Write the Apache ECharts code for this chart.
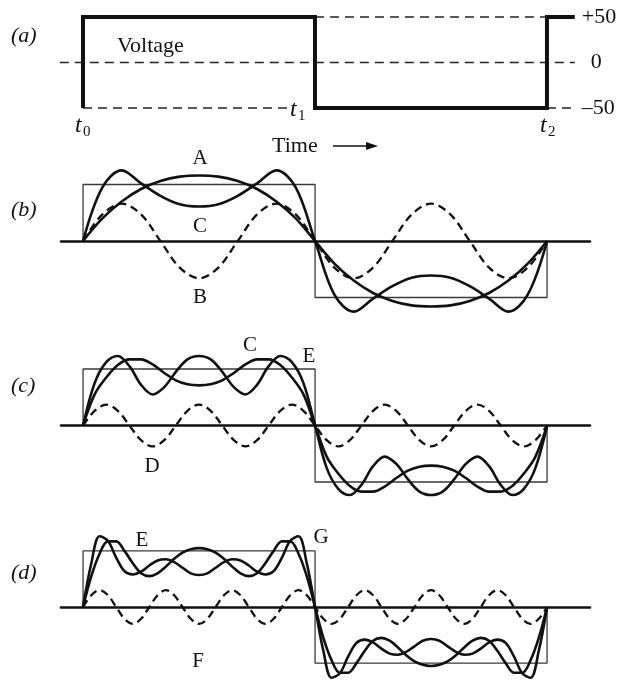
<!DOCTYPE html>
<html>
<head>
<meta charset="utf-8">
<script src="https://cdn.jsdelivr.net/npm/echarts@6/dist/echarts.min.js"></script>
<style>
  html, body { margin: 0; background: #fff; }
  #chart { width: 637px; height: 680px; }
</style>
</head>
<body>
<div id="chart"></div>
<script>
// (a) the square wave, time in half periods (t0 = 0, t1 = 1, t2 = 2)
const squareT = [0, 0, 1, 1, 2, 2, 2.12]
const squareV = [-50, 50, 50, -50, -50, 50, 50]
const tickValues = [50, 0, -50]
const tickLabels = ['+50', '{z|0}', '–50']

// thin outline of the ideal wave in (b)-(d), in units of the amplitude
const rectT = [0, 0, 1, 1, 2, 2]
const rectV = [0, 1, 1, -1, -1, 0]

// (b) sampled every 1/12 of a half period
const stepsB = 12
const waveA = [0, 0.40, 0.70, 0.92, 1.06, 1.14, 1.16, 1.14, 1.06, 0.92, 0.70, 0.40, 0,
  -0.40, -0.70, -0.92, -1.06, -1.14, -1.16, -1.14, -1.06, -0.92, -0.70, -0.40, 0]
const waveB = [0, 0.47, 0.66, 0.47, 0, -0.47, -0.66, -0.47, 0, 0.47, 0.66, 0.47, 0,
  -0.47, -0.66, -0.47, 0, 0.47, 0.66, 0.47, 0, -0.47, -0.66, -0.47, 0]
const waveCb = [0, 0.95, 1.25, 1.02, 0.80, 0.65, 0.61, 0.65, 0.80, 1.02, 1.25, 0.95, 0,
  -0.95, -1.25, -1.02, -0.80, -0.65, -0.61, -0.65, -0.80, -1.02, -1.25, -0.95, 0]

// (c) sampled every 1/20
const stepsC = 20
const waveCc = [0, 0.55, 0.85, 1.07, 1.17, 1.17, 1.08, 0.93, 0.80, 0.73, 0.71, 0.73, 0.80, 0.93, 1.08, 1.17, 1.17, 1.07, 0.85, 0.55, 0,
  -0.55, -0.85, -1.07, -1.17, -1.17, -1.08, -0.93, -0.80, -0.73, -0.71, -0.73, -0.80, -0.93, -1.08, -1.17, -1.17, -1.07, -0.85, -0.55, 0]
const waveD = [0, 0.26, 0.37, 0.26, 0, -0.26, -0.37, -0.26, 0, 0.26, 0.37, 0.26, 0, -0.26, -0.37, -0.26, 0, 0.26, 0.37, 0.26, 0,
  -0.26, -0.37, -0.26, 0, 0.26, 0.37, 0.26, 0, -0.26, -0.37, -0.26, 0, 0.26, 0.37, 0.26, 0, -0.26, -0.37, -0.26, 0]
const waveEc = [0, 0.75, 1.12, 1.23, 1.05, 0.72, 0.55, 0.68, 0.95, 1.17, 1.23, 1.17, 0.95, 0.68, 0.55, 0.72, 1.05, 1.23, 1.12, 0.75, 0,
  -0.75, -1.12, -1.23, -1.05, -0.72, -0.55, -0.68, -0.95, -1.17, -1.23, -1.17, -0.95, -0.68, -0.55, -0.72, -1.05, -1.23, -1.12, -0.75, 0]

// (d) sampled every 1/28
const stepsD = 28
const waveEd = [0, 0.55, 0.95, 1.17, 1.17, 1.00, 0.78, 0.60, 0.55, 0.60, 0.72, 0.86, 0.97, 1.03, 1.05, 1.03, 0.97, 0.86, 0.72, 0.60, 0.55, 0.60, 0.78, 1.00, 1.17, 1.17, 0.95, 0.55, 0,
  -0.55, -0.95, -1.17, -1.17, -1.00, -0.78, -0.60, -0.55, -0.60, -0.72, -0.86, -0.97, -1.03, -1.05, -1.03, -0.97, -0.86, -0.72, -0.60, -0.55, -0.60, -0.78, -1.00, -1.17, -1.17, -0.95, -0.55, 0]
const waveF = [0, 0.21, 0.30, 0.21, 0, -0.21, -0.30, -0.21, 0, 0.21, 0.30, 0.21, 0, -0.21, -0.30, -0.21, 0, 0.21, 0.30, 0.21, 0, -0.21, -0.30, -0.21, 0, 0.21, 0.30, 0.21, 0,
  -0.21, -0.30, -0.21, 0, 0.21, 0.30, 0.21, 0, -0.21, -0.30, -0.21, 0, 0.21, 0.30, 0.21, 0, -0.21, -0.30, -0.21, 0, 0.21, 0.30, 0.21, 0, -0.21, -0.30, -0.21, 0]
const waveG = [0, 0.78, 1.26, 1.18, 0.88, 0.64, 0.58, 0.63, 0.74, 0.83, 0.85, 0.80, 0.70, 0.60, 0.57, 0.60, 0.70, 0.80, 0.85, 0.83, 0.74, 0.63, 0.58, 0.64, 0.88, 1.18, 1.26, 0.78, 0,
  -0.78, -1.26, -1.18, -0.88, -0.64, -0.58, -0.63, -0.74, -0.83, -0.85, -0.80, -0.70, -0.60, -0.57, -0.60, -0.70, -0.80, -0.85, -0.83, -0.74, -0.63, -0.58, -0.64, -0.88, -1.18, -1.26, -0.78, 0]

const serif = "'Liberation Serif', 'DejaVu Serif', serif"
const ink = '#111'

function pairs(xs, ys) {
  return xs.map((x, i) => [x, ys[i]])
}
function sampled(vals, steps) {
  return vals.map((v, i) => [i / steps, v])
}

let myChart = echarts.init(document.getElementById('chart'))

function line(grid, data, opt) {
  return Object.assign({
    type: 'line',
    xAxisIndex: grid,
    yAxisIndex: grid,
    data: data,
    showSymbol: false,
    symbol: 'none',
    clip: false,
    silent: true,
    smooth: 0.35,
    lineStyle: { color: ink, width: 2.6 }
  }, opt)
}
function dashed(grid, data) {
  return line(grid, data, { lineStyle: { color: ink, width: 2.3, type: [8, 5] } })
}
function outline(grid) {
  return line(grid, pairs(rectT, rectV), { smooth: false, lineStyle: { color: '#3a3a3a', width: 1.3 } })
}
function refLine(data) {
  return line(0, data, { smooth: false, lineStyle: { color: '#222', width: 1.4, type: [9, 6] } })
}

// panels (b)-(d): zero sits at 241, 425.5 and 607.5 px, one amplitude unit is 56.5 px
const panelZero = [241, 425.5, 607.5]
const unit = 56.5
const span = 1.3

let grids = [{ left: 59.8, top: 17, width: 515, height: 91 }]
let xAxes = [{ type: 'value', gridIndex: 0, min: -0.1, max: 2.12, show: false }]
let yAxes = [{
  type: 'value', gridIndex: 0, min: -50, max: 50, interval: 50, position: 'right',
  axisLine: { show: false }, axisTick: { show: false }, splitLine: { show: false },
  axisLabel: {
    margin: 7,
    color: ink,
    fontFamily: serif,
    fontSize: 22,
    formatter: v => tickLabels[tickValues.indexOf(v)],
    rich: { z: { fontFamily: serif, fontSize: 22, color: ink, padding: [0, 0, 0, 9] } }
  }
}]
panelZero.forEach((z, i) => {
  grids.push({ left: 61, top: z - span * unit, width: 529, height: 2 * span * unit })
  xAxes.push({
    type: 'value', gridIndex: i + 1, min: -0.095, max: 2.185,
    axisLine: { show: true, onZero: true, lineStyle: { color: ink, width: 2.6 } },
    axisTick: { show: false }, axisLabel: { show: false }, splitLine: { show: false }
  })
  yAxes.push({ type: 'value', gridIndex: i + 1, min: -span, max: span, show: false })
})

function label(text, x, y, opt) {
  return {
    type: 'text', x: x, y: y, silent: true,
    style: Object.assign({
      text: text, fill: ink, font: '21px ' + serif,
      align: 'center', verticalAlign: 'middle'
    }, opt)
  }
}
const italic = 'italic 22px ' + serif

myChart.setOption({
  animation: false,
  backgroundColor: '#fff',
  grid: grids,
  xAxis: xAxes,
  yAxis: yAxes,
  series: [
    refLine([[-0.1, 0], [2.12, 0]]),
    refLine([[1, 50], [2, 50]]),
    refLine([[0, -50], [0.89, -50]]),
    refLine([[2, -50], [2.12, -50]]),
    line(0, pairs(squareT, squareV), { smooth: false, lineStyle: { color: ink, width: 4, join: 'miter' } }),

    outline(1),
    line(1, sampled(waveA, stepsB)),
    dashed(1, sampled(waveB, stepsB)),
    line(1, sampled(waveCb, stepsB)),

    outline(2),
    line(2, sampled(waveCc, stepsC)),
    dashed(2, sampled(waveD, stepsC)),
    line(2, sampled(waveEc, stepsC)),

    outline(3),
    line(3, sampled(waveEd, stepsD)),
    dashed(3, sampled(waveF, stepsD)),
    line(3, sampled(waveG, stepsD))
  ],
  graphic: [
    label('(a)', 11, 36, { align: 'left', font: italic }),
    label('(b)', 11, 210, { align: 'left', font: italic }),
    label('(c)', 11, 386, { align: 'left', font: italic }),
    label('(d)', 11, 573, { align: 'left', font: italic }),
    label('Voltage', 117, 46, { align: 'left', font: '22px ' + serif }),
    label('t', 75, 126, { align: 'left', font: 'italic 24px ' + serif }),
    label('0', 83, 132, { align: 'left', font: '15px ' + serif }),
    label('t', 290, 110, { align: 'left', font: 'italic 24px ' + serif }),
    label('1', 298, 116, { align: 'left', font: '15px ' + serif }),
    label('t', 540, 126, { align: 'left', font: 'italic 24px ' + serif }),
    label('2', 548, 132, { align: 'left', font: '15px ' + serif }),
    label('Time', 272, 146, { align: 'left', font: '22px ' + serif }),
    { type: 'line', silent: true, shape: { x1: 333, y1: 146, x2: 370, y2: 146 }, style: { stroke: ink, lineWidth: 1.6 } },
    { type: 'polygon', silent: true, shape: { points: [[378, 146], [366, 142], [366, 150]] }, style: { fill: ink } },
    label('A', 200, 158),
    label('C', 200, 226),
    label('B', 200, 297),
    label('C', 250, 345),
    label('E', 309, 356),
    label('D', 152, 466),
    label('E', 142, 540),
    label('G', 321, 537),
    label('F', 198, 661)
  ]
})
</script>
</body>
</html>
